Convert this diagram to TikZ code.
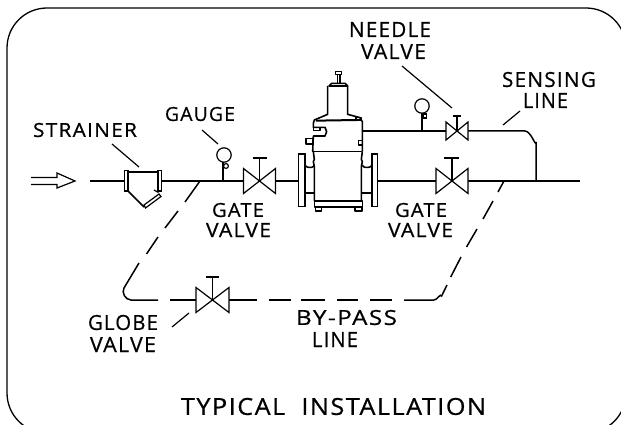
\documentclass[tikz,border=0pt]{standalone}
\usepackage{fontspec}
\setmainfont{Open Sans}[LetterSpace=6,FakeBold=0.6]
\tikzset{
  x=1pt,y=-1pt,
  pipe/.style={line width=1.5pt,black},
  thin line/.style={line width=1.2pt,black},
  leader/.style={line width=1.2pt,black},
  body/.style={line width=1.6pt,black,line join=round},
  lbl/.style={inner sep=0pt,outer sep=0pt,anchor=center}
}
\newcommand{\cad}[7][]{\node[lbl,#1] (#2) at (#3,#4) {\resizebox{#5pt}{#6pt}{#7}};}
\newcommand{\valvesym}[5]{% cx cy halfw halfh stemtop
  \draw[thin line,fill=white] (#1-#3,#2-#4) -- (#1+#3,#2+#4) -- (#1+#3,#2-#4) -- (#1-#3,#2+#4) -- cycle;
  \draw[thin line] (#1,#2) -- (#1,#5);}
\begin{document}
\begin{tikzpicture}
\useasboundingbox (0,0) rectangle (621,425);
\begin{scope}
\clip (0,0) rectangle (621,425);
\draw[line width=1.3pt,rounded corners=40pt] (7,8) rectangle (626,433);
\end{scope}
% inlet arrow
\draw[thin line] (31,177.5) -- (57,177.5) -- (57,173) -- (75,181) -- (57,188) -- (57,184.5) -- (31,184.5);
% main pipe
\draw[pipe] (90,181) -- (125,181);
\draw[pipe] (162,181) -- (243,181);
\draw[pipe] (276,181) -- (298,181);
\draw[pipe] (377,181) -- (436,181);
\draw[pipe] (468,181) -- (580,181);
% strainer
\draw[thin line] (124.5,170.5) rectangle (128,191);
\draw[thin line] (158,170.5) rectangle (161.5,191);
\draw[pipe] (128,172) -- (158,172);
\draw[pipe] (128,191) -- (144,207);
\draw[thin line] (144,205) -- (159,194) -- (161,196.5) -- (145.5,208) -- cycle;
\draw[thin line] (154,190) -- (158.5,192.5);
% gauges
\draw[pipe] (223,181) -- (223,162);
\draw[thin line] (224,155) circle[radius=7.2];
\draw[thin line] (226,166) circle[radius=2.4];
\draw[pipe] (422,131) -- (422,113);
\draw[thin line] (422,106) circle[radius=7.2];
\draw[thin line] (423,114) rectangle (426.5,118);
% gate valves
\valvesym{259.5}{181}{16}{12.5}{158}
\draw[pipe] (253,158) -- (267,158);
\valvesym{452}{181}{16}{12.5}{158}
\draw[pipe] (444,158) -- (459,158);
% sensing line
\draw[pipe] (362,131) -- (446,131);
\draw[pipe] (468,131) -- (525,131) to[out=0,in=-90] (536,142) -- (536,181);
% needle valve
\valvesym{457}{131}{11}{9}{116}
\draw[pipe] (453,116) -- (461,116);
% regulator
\begin{scope}[shift={(280,70)},x=0.3333pt,y=-0.3333pt]
\draw[thin line,fill=white] (56,252) rectangle (75,410);
\draw[thin line,fill=white] (276,252) rectangle (292,410);
\draw[body] (75,285) to[out=-60,in=180] (85,292) -- (95,292) to[out=0,in=-120] (103,285);
\draw[body] (75,369) -- (103,369);
\draw[body] (276,285) to[out=-120,in=0] (266,292) -- (255,292) to[out=180,in=-60] (247,285);
\draw[body] (276,369) -- (247,369);
% bonnet
\draw[body] (167,5) rectangle (185,13);
\draw[body] (172,13) -- (172,40) (180,13) -- (180,40);
\draw[body] (147,48) -- (155,40) -- (195,40) -- (203,48) -- cycle;
\draw[body] (143,48) -- (143,133) -- (103,150) -- (100,160) -- (100,172) -- (135,172) -- (140,185) -- (135,198) -- (100,198) -- (98,245);
\draw[body] (203,48) -- (203,133) -- (240,143) -- (247,155) -- (247,245);
\draw[line width=2pt] (108,152) -- (232,150);
\draw[body] (100,172) rectangle (120,182);
\draw[body] (78,205) rectangle (97,222);
\draw[body] (235,212) rectangle (247,225);
\draw[body] (228,142) rectangle (243,150);
% lower body
\draw[body] (97,245) -- (247,245);
\draw[body] (100,245) -- (103,268) -- (100,275) -- (103,290) -- (103,393);
\draw[body] (247,245) -- (244,268) -- (247,275) -- (244,290) -- (244,393);
\draw[line width=1.8pt] (103,393) -- (247,393);
\draw[body] (103,393) rectangle (247,411);
\draw[body] (106,411) rectangle (125,423);
\draw[body] (225,411) rectangle (246,423);
\end{scope}
% by-pass line dashes
\draw[pipe] (504,181) -- (498,192);
\draw[pipe] (493,201) -- (483,219);
\draw[pipe] (477,229) -- (466.5,247);
\draw[pipe] (461,257) -- (450.7,277);
\draw[pipe] (447,285) -- (441.6,296) to[out=115,in=0] (434,300) -- (404,300);
\draw[pipe] (392,300) -- (370,300);
\draw[pipe] (358,300) -- (336.6,300);
\draw[pipe] (325,300) -- (301,300);
\draw[pipe] (291,300) -- (268.5,300);
\draw[pipe] (256.6,300) -- (229,300);
\draw[pipe] (196,300) -- (170,300);
\draw[pipe] (158,300) -- (131,300) to[out=180,in=-120] (124,288) -- (139,263);
\draw[pipe] (146.5,254) -- (158,237);
\draw[pipe] (165,228) -- (178,211);
\draw[pipe] (185,202) -- (200,181);
% globe valve
\valvesym{212.5}{300}{16.5}{12.5}{277}
\draw[pipe] (206,277) -- (219,277);
% leaders
\draw[leader] (112,144) -- (139,167);
\draw[leader] (202,130) -- (218,144);
\draw[leader] (402,66) -- (452,108);
\draw[leader] (520,111) -- (503,125);
\draw[leader] (189,313) -- (172,327);
% labels
\cad{strainer}{85}{130}{104}{14}{STRAINER}
\cad{gauge}{200}{114}{70}{14}{GAUGE}
\cad{gatea}{238}{210}{52}{14}{GATE}
\cad{valvea}{238.5}{230}{65}{14}{VALVE}
\cad{gateb}{421}{210}{52}{14}{GATE}
\cad{valveb}{420.5}{230}{65}{14}{VALVE}
\cad{sensing}{549}{79.5}{94}{15}{SENSING}
\cad{linea}{545.5}{100.5}{45}{15}{LINE}
\cad{needle}{390}{29.5}{82}{15}{NEEDLE}
\cad{valvec}{393.5}{51.5}{65}{15}{VALVE}
\cad{globe}{123}{322.5}{70}{15}{GLOBE}
\cad{valved}{123}{344.5}{66}{15}{VALVE}
\cad{bypass}{346.5}{317.5}{101}{15}{BY-PASS}
\cad{lineb}{335}{339.5}{46}{15}{LINE}
\cad{title}{333.5}{406.5}{305}{17}{TYPICAL\ \ INSTALLATION}
\end{tikzpicture}
\end{document}
